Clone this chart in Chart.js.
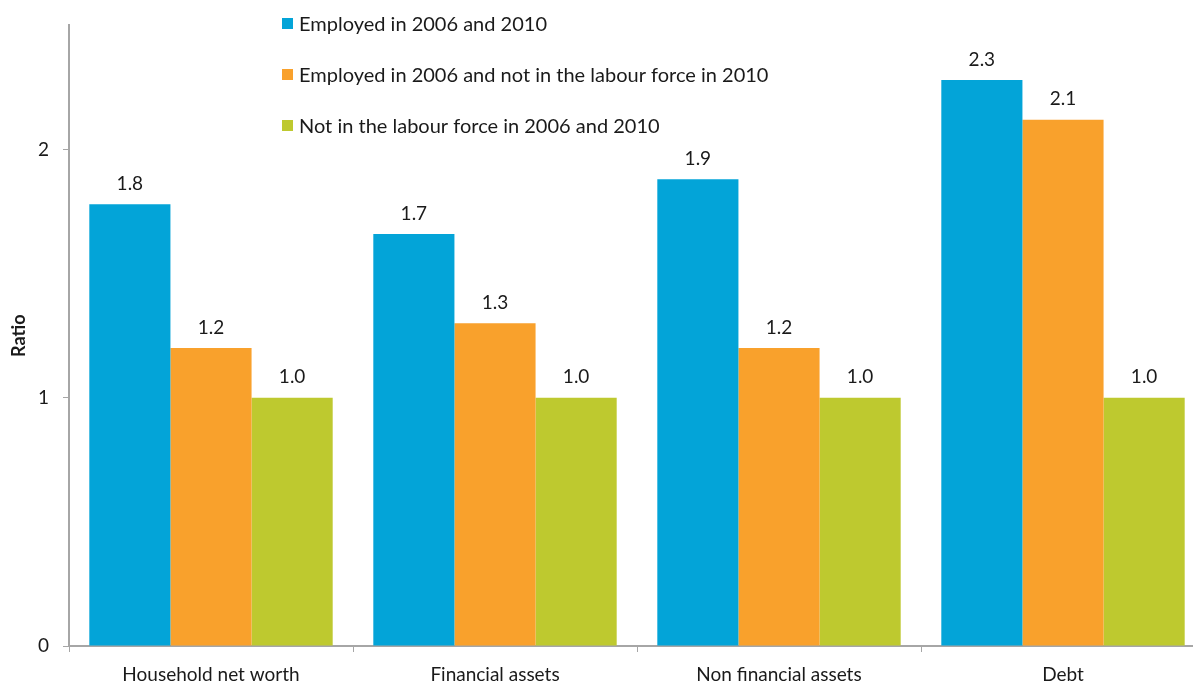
<!DOCTYPE html>
<html>
<head>
<meta charset="utf-8">
<script src="https://cdn.jsdelivr.net/npm/chart.js@4/dist/chart.umd.min.js"></script>
<style>
  html, body { margin: 0; padding: 0; background: #fff; overflow: hidden; }
  #wrap { width: 1205px; height: 684px; }
</style>
</head>
<body>
<div id="wrap"><canvas id="chartRatio" width="1205" height="684"></canvas></div>
<script>
// ── DATOS ──
const categorias = ["Household net worth", "Financial assets", "Non financial assets", "Debt"];
const serieEmpleados = [1.78, 1.66, 1.88, 2.28];
const serieEmpNoLF = [1.2, 1.3, 1.2, 2.12];
const serieNoLF = [1.0, 1.0, 1.0, 1.0];
const nombresSeries = [
    "Employed in 2006 and 2010",
    "Employed in 2006 and not in the labour force in 2010",
    "Not in the labour force in 2006 and 2010"
];
const colores = ["#03a4d8", "#f9a12c", "#bec92f"];

const FONT = "Lato, 'Open Sans', sans-serif";
const AXIS = "#a6a6a6";
Chart.defaults.font.family = FONT;
Chart.defaults.color = "#1a1a1a";

// etiquetas de valor sobre cada barra
const etiquetas = {
    id: "etiquetas",
    afterDatasetsDraw(chart) {
        const ctx = chart.ctx;
        ctx.save();
        ctx.font = "19px " + FONT;
        ctx.fillStyle = "#1a1a1a";
        ctx.textAlign = "center";
        ctx.textBaseline = "bottom";
        chart.data.datasets.forEach((ds, i) => {
            chart.getDatasetMeta(i).data.forEach((bar, j) => {
                ctx.fillText(ds.data[j].toFixed(1), bar.x, bar.y - 11);
            });
        });
        ctx.restore();
    }
};

// leyenda vertical arriba al centro
const leyenda = {
    id: "leyenda",
    afterDraw(chart) {
        const ctx = chart.ctx;
        ctx.save();
        ctx.font = "20px " + FONT;
        ctx.textBaseline = "middle";
        chart.data.datasets.forEach((ds, i) => {
            const y = 24 + i * 51;
            ctx.fillStyle = ds.backgroundColor;
            ctx.fillRect(282, y - 6, 11, 11);
            ctx.fillStyle = "#1a1a1a";
            ctx.fillText(ds.label, 299, y + 1);
        });
        ctx.restore();
    }
};

new Chart(document.getElementById("chartRatio"), {
    type: "bar",
    data: {
        labels: categorias,
        datasets: [
            { label: nombresSeries[0], data: serieEmpleados, backgroundColor: colores[0] },
            { label: nombresSeries[1], data: serieEmpNoLF, backgroundColor: colores[1] },
            { label: nombresSeries[2], data: serieNoLF, backgroundColor: colores[2] }
        ]
    },
    options: {
        responsive: false,
        animation: false,
        layout: { padding: { top: 15, right: 0, left: 0, bottom: 0 } },
        datasets: { bar: { categoryPercentage: 0.857, barPercentage: 1.0 } },
        plugins: { legend: { display: false }, tooltip: { enabled: false } },
        scales: {
            x: {
                grid: { display: true, drawOnChartArea: false, color: AXIS, tickLength: 6, offset: true },
                border: { color: AXIS, width: 2 },
                ticks: { font: { size: 19 }, color: "#1a1a1a", padding: 11 },
                afterFit: s => { s.height = 38; }
            },
            y: {
                min: 0, max: 2.5,
                afterBuildTicks: s => { s.ticks = [0, 1, 2].map(v => ({ value: v })); },
                grid: { display: true, drawOnChartArea: false, color: AXIS, tickLength: 6 },
                border: { color: AXIS, width: 2 },
                ticks: { font: { size: 19 }, color: "#1a1a1a", padding: 14 },
                title: { display: true, text: "Ratio", font: { size: 18, weight: "bold" }, color: "#1a1a1a", padding: { top: 8, bottom: 0 } },
                afterFit: s => { s.width = 69; }
            }
        }
    },
    plugins: [etiquetas, leyenda]
});
</script>
</body>
</html>
